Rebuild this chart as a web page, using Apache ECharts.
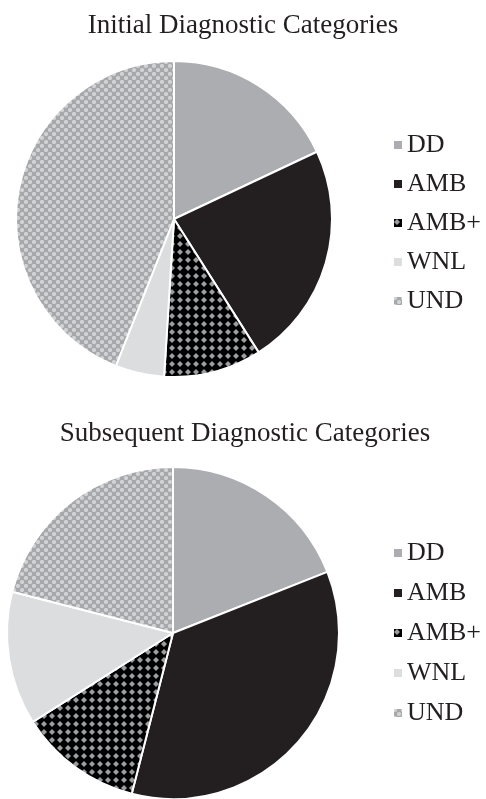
<!DOCTYPE html>
<html>
<head>
<meta charset="utf-8">
<script src="https://cdn.jsdelivr.net/npm/echarts@6/dist/echarts.min.js"></script>
<style>
  html, body { margin: 0; padding: 0; background: #ffffff; }
  #chart { width: 486px; height: 799px; }
</style>
</head>
<body>
<div id="chart"></div>
<script>
// Diagnostic category shares (percent)
const categories = ['DD', 'AMB', 'AMB+', 'WNL', 'UND'];
const initialValues = [18, 23, 10, 5, 44];
const subsequentValues = [19, 35, 12, 13, 21];
const titles = ['Initial Diagnostic Categories', 'Subsequent Diagnostic Categories'];

const FONT = '"Liberation Serif", "Times New Roman", serif';

// Black tile with grey diamonds
function diamondPattern() {
  const c = document.createElement('canvas');
  c.width = 8; c.height = 8;
  const g = c.getContext('2d');
  g.fillStyle = '#000000';
  g.fillRect(0, 0, 8, 8);
  g.fillStyle = '#9c9da0';
  g.beginPath();
  g.moveTo(4, 1); g.lineTo(7, 4); g.lineTo(4, 7); g.lineTo(1, 4);
  g.closePath();
  g.fill();
  return c;
}

// Fine grey checker with light dots
function checkerPattern() {
  const c = document.createElement('canvas');
  c.width = 8; c.height = 8;
  const g = c.getContext('2d');
  g.fillStyle = '#a7a8ab';
  g.fillRect(0, 0, 8, 8);
  g.fillStyle = '#d2d3d5';
  g.beginPath(); g.arc(2, 2, 2.1, 0, Math.PI * 2); g.fill();
  g.beginPath(); g.arc(6, 6, 2.1, 0, Math.PI * 2); g.fill();
  return c;
}

const fills = [
  '#acadb0',
  '#231f20',
  { image: diamondPattern(), repeat: 'repeat' },
  '#dcdddf',
  { image: checkerPattern(), repeat: 'repeat' }
];

function buildData(values) {
  return categories.map((name, i) => ({
    name: name,
    value: values[i],
    itemStyle: { color: fills[i] }
  }));
}

const titleText = { fontFamily: FONT, fontSize: 27, fontWeight: 'normal', color: '#231f20' };
const legendText = { fontFamily: FONT, fontSize: 26, color: '#231f20', padding: [0, 0, 0, -1] };

const chart = echarts.init(document.getElementById('chart'), null, { renderer: 'canvas' });

chart.setOption({
  backgroundColor: '#ffffff',
  animation: false,
  title: [
    { text: titles[0], left: 238, top: 7, textAlign: 'center', textStyle: titleText },
    { text: titles[1], left: 240, top: 415, textAlign: 'center', textStyle: titleText }
  ],
  legend: [
    {
      orient: 'vertical', left: 387, top: 127, icon: 'rect',
      itemWidth: 10, itemHeight: 10, itemGap: 13,
      selectedMode: false, textStyle: legendText, data: categories
    },
    {
      orient: 'vertical', left: 387, top: 535, icon: 'rect',
      itemWidth: 10, itemHeight: 10, itemGap: 14,
      selectedMode: false, textStyle: legendText, data: categories
    }
  ],
  series: [
    {
      type: 'pie',
      center: [174, 219],
      radius: [0, 158],
      startAngle: 90,
      clockwise: true,
      label: { show: false },
      labelLine: { show: false },
      emphasis: { disabled: true },
      itemStyle: { borderColor: '#ffffff', borderWidth: 2 },
      data: buildData(initialValues)
    },
    {
      type: 'pie',
      center: [173, 633],
      radius: [0, 166],
      startAngle: 90,
      clockwise: true,
      label: { show: false },
      labelLine: { show: false },
      emphasis: { disabled: true },
      itemStyle: { borderColor: '#ffffff', borderWidth: 2 },
      data: buildData(subsequentValues)
    }
  ]
});
</script>
</body>
</html>
